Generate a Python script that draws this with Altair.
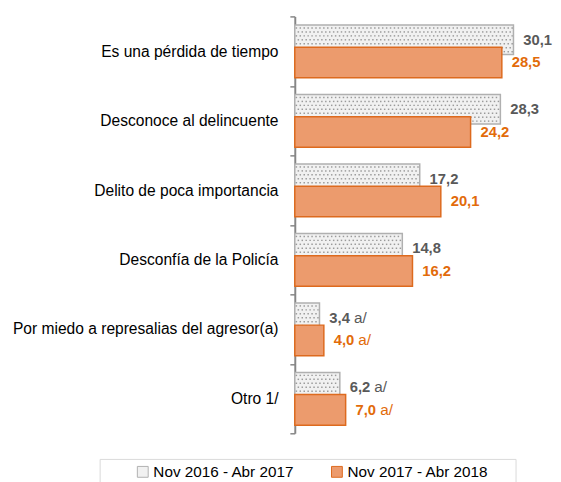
import altair as alt
import pandas as pd

categorias = [
    "Es una pérdida de tiempo",
    "Desconoce al delincuente",
    "Delito de poca importancia",
    "Desconfía de la Policía",
    "Por miedo a represalias del agresor(a)",
    "Otro 1/",
]
periodos = ["Nov 2016 - Abr 2017", "Nov 2017 - Abr 2018"]
valores_2017 = [30.1, 28.3, 17.2, 14.8, 3.4, 6.2]
valores_2018 = [28.5, 24.2, 20.1, 16.2, 4.0, 7.0]
notas = ["", "", "", "", "a/", "a/"]

rows = []
for per, vals in zip(periodos, [valores_2017, valores_2018]):
    for c, v, n in zip(categorias, vals, notas):
        rows.append({"cat": c, "periodo": per, "valor": v,
                     "etiqueta": f"{v:.1f}".replace(".", ","), "nota": n})
df = pd.DataFrame(rows)

FONT = "Liberation Sans"
GREY_FILL = "#f1f1f1"
GREY_STROKE = "#b0b0b0"
DOT = "#9a9a9a"
OR_FILL = "#ec9b6d"
OR_STROKE = "#dd6a1e"
GREY_TXT = "#595959"
OR_TXT = "#e26b0a"

NBSP = "\u00a0"

y_enc = alt.Y("cat:N", sort=categorias,
              scale=alt.Scale(paddingInner=0, paddingOuter=0),
              axis=alt.Axis(title=None, domainColor="#868686", domainWidth=2,
                            tickColor="#868686", tickWidth=1.5, tickSize=5,
                            tickBand="extent", labelPadding=12,
                            labelFontSize=15.8, labelFont=FONT, labelColor="#000000",
                            labelLimit=0))
x_scale = alt.Scale(domain=[0, 35])
x_enc = alt.X("valor:Q", scale=x_scale, axis=None)
color_enc = alt.Color("periodo:N", sort=periodos,
                      scale=alt.Scale(domain=periodos, range=[GREY_FILL, OR_FILL]),
                      legend=alt.Legend(title=NBSP, titleOrient="right", titlePadding=22,
                                        titleFontSize=15,
                                        orient="none", legendX=-198, legendY=449,
                                        direction="horizontal", symbolType="square",
                                        symbolSize=121, symbolStrokeWidth=1,
                                        symbolOffset=31, columnPadding=4, labelOffset=3,
                                        labelFontSize=15.5, labelFont=FONT,
                                        labelColor="#000000",
                                        strokeColor="#d9d9d9", padding=5))
stroke_enc = alt.Stroke("periodo:N", sort=periodos,
                        scale=alt.Scale(domain=periodos, range=[GREY_STROKE, OR_STROKE]),
                        legend=None)

base = alt.Chart(df)
base_a = base.transform_filter(alt.datum.periodo == periodos[0])
base_b = base.transform_filter(alt.datum.periodo == periodos[1])

bar_a = base_a.mark_bar(size=30, yOffset=-11.5, strokeWidth=1.5).encode(
    y=y_enc, x=x_enc, color=color_enc, stroke=stroke_enc)

# dotted texture of the first-period bars
dot_layers = []
for r in range(7):
    start = 0.22 + (r % 2) * 0.27
    dot_layers.append(
        base_a.transform_calculate(px=f"sequence({start}, datum.valor - 0.15, 0.54)")
        .transform_flatten(["px"])
        .mark_square(size=2.2, color=DOT, opacity=1, yOffset=-11.5 - 12 + r * 4)
        .encode(y=y_enc, x=alt.X("px:Q", scale=x_scale, axis=None))
    )

bar_b = base_b.mark_bar(size=31, yOffset=11.5, strokeWidth=1.5).encode(
    y=y_enc, x=x_enc, color=color_enc, stroke=stroke_enc)

txt_a = base_a.mark_text(
    align="left", baseline="middle", dx=10, dy=-11.5, fontSize=15,
    fontWeight="bold", font=FONT, color=GREY_TXT
).encode(y=y_enc, x=x_enc, text="etiqueta:N")

txt_b = base_b.mark_text(
    align="left", baseline="middle", dx=10, dy=11.5, fontSize=15,
    fontWeight="bold", font=FONT, color=OR_TXT
).encode(y=y_enc, x=x_enc, text="etiqueta:N")

nota_a = base_a.mark_text(
    align="left", baseline="middle", dx=35, dy=-11.5, fontSize=15.5,
    font=FONT, color=GREY_TXT
).encode(y=y_enc, x=x_enc, text="nota:N")

nota_b = base_b.mark_text(
    align="left", baseline="middle", dx=35, dy=11.5, fontSize=15.5,
    font=FONT, color=OR_TXT
).encode(y=y_enc, x=x_enc, text="nota:N")

chart = alt.layer(bar_a, *dot_layers, bar_b, txt_a, txt_b, nota_a, nota_b).properties(
    width=258, height=423, background="#ffffff",
    padding={"left": 4, "top": -3, "right": 0, "bottom": 0},
).configure_view(stroke=None)

chart.save("out.html", embed_options={"renderer": "svg", "actions": False})
